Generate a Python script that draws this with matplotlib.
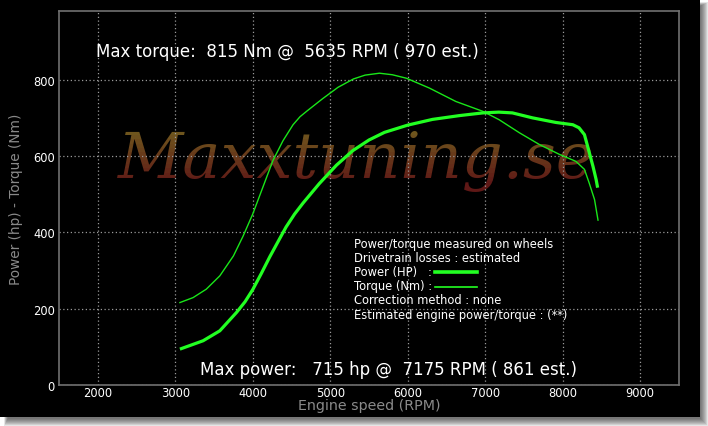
import matplotlib
matplotlib.use("Agg")
import matplotlib.pyplot as plt
import numpy as np
from matplotlib.patches import Rectangle
from matplotlib.lines import Line2D
from matplotlib.transforms import Bbox, TransformedBbox

# data
torque_rpm = [3060, 3230, 3400, 3575, 3750, 3875, 4000, 4130, 4260, 4390, 4520,
              4610, 4700, 4900, 5100, 5300, 5450, 5635, 5800, 5980, 6280, 6620,
              6970, 7180, 7440, 7700, 7960, 8170, 8280, 8340, 8410, 8455]
torque_nm = [216, 229, 251, 286, 338, 390, 448, 518, 588, 640, 682,
             703, 718, 750, 780, 802, 812, 817, 813, 804, 778, 743,
             717, 695, 661, 630, 604, 586, 565, 530, 486, 432]

power_rpm = [3060, 3360, 3575, 3790, 3900, 4000, 4110, 4220, 4330, 4430, 4540,
             4650, 4860, 5080, 5290, 5500, 5700, 6000, 6320, 6670, 6970, 7175,
             7350, 7610, 7910, 8130, 8210, 8280, 8320, 8390, 8430, 8450]
power_hp = [94, 116, 142, 190, 218, 250, 292, 336, 377, 414, 448,
            477, 528, 576, 614, 642, 662, 681, 696, 706, 713, 715,
            713, 700, 688, 682, 674, 656, 626, 573, 539, 517]

x_ticks = [2000, 3000, 4000, 5000, 6000, 7000, 8000, 9000]
y_ticks = [0, 200, 400, 600, 800]

max_torque_txt = "Max torque:  815 Nm @  5635 RPM ( 970 est.)"
max_power_txt = "Max power:   715 hp @  7175 RPM ( 861 est.)"
info_lines = ["Power/torque measured on wheels",
              "Drivetrain losses : estimated",
              "Power (HP)   :",
              "Torque (Nm) :",
              "Correction method : none",
              "Estimated engine power/torque : (**)"]

W, H = 708, 427
fig = plt.figure(figsize=(W / 100, H / 100), dpi=100)
fig.patch.set_facecolor("white")


def px(x, y):
    # pixel (from top-left) -> figure fraction
    return x / W, 1 - y / H


# drop shadow + black panel
for i in range(8):
    x0, y0 = px(4 + i * 0.5, 3 + i * 0.5)
    x1, y1 = px(708 - i, 427 - i)
    fig.patches.append(Rectangle((x0, y1), x1 - x0, y0 - y1, transform=fig.transFigure,
                                 facecolor="#303030", alpha=0.12, edgecolor="none", zorder=0))
x0, y0 = px(0, 0)
x1, y1 = px(700, 418)
fig.patches.append(Rectangle((x0, y1), x1 - x0, y0 - y1, transform=fig.transFigure,
                             facecolor="black", edgecolor="none", zorder=0.5))

l, t = px(59, 12)
r, b = px(679, 386)
ax = fig.add_axes([l, b, r - l, t - b])
ax.set_facecolor("black")
ax.set_xlim(1500, 9500)
ax.set_ylim(0, 980)
ax.set_xticks(x_ticks)
ax.set_yticks(y_ticks)
ax.tick_params(length=0, colors="white", labelsize=8.3)
ax.tick_params(axis="x", pad=0.8)
ax.tick_params(axis="y", pad=3)
for s in ax.spines.values():
    s.set_color("#707070")
    s.set_linewidth(1.2)
ax.grid(True, color="#9a9a9a", linestyle=(0, (1, 2)), linewidth=0.9)
ax.set_xlabel("Engine speed (RPM)", color="#8a8a8a", fontsize=10.3, labelpad=-1)
ax.set_ylabel("Power (hp) - Torque (Nm)", color="#8a8a8a", fontsize=9.8,
              family="Liberation Sans Narrow", labelpad=7)

# watermark with a vertical colour gradient (olive -> dark red)
top_c = np.array([0x70, 0x5c, 0x1e]) / 255
bot_c = np.array([0x5e, 0x16, 0x16]) / 255
wm_top, wm_bot = 128, 186
n = 14
for i in range(n):
    ya = wm_top + (wm_bot - wm_top) * i / n
    yb = wm_top + (wm_bot - wm_top) * (i + 1) / n
    c = top_c + (bot_c - top_c) * (i + 0.5) / n
    tx = fig.text(px(118, 0)[0], px(0, 178)[1], "Maxxtuning.se", family="DejaVu Serif",
                  style="italic", fontsize=46, color=c, va="baseline", ha="left", zorder=1)
    fa, fb = px(0, ya)[1], px(0, yb)[1]
    if i == 0:
        fa = 1
    if i == n - 1:
        fb = 0
    tx.set_clip_box(TransformedBbox(Bbox([[0, fb], [1, fa]]), fig.transFigure))
    tx.set_clip_on(True)

ax.plot(torque_rpm, torque_nm, color="#19e619", linewidth=1.0, zorder=3)
ax.plot(power_rpm, power_hp, color="#22ff22", linewidth=2.3, zorder=3,
        solid_capstyle="butt")

ax.set_zorder(2)
ax.patch.set_alpha(0)

fig.text(*px(96, 52), max_torque_txt, color="white", fontsize=12, va="center", ha="left")
fig.text(*px(200, 370), max_power_txt, color="white", fontsize=12, va="center", ha="left")

ys = [245, 258.5, 272.5, 287, 301, 316]
for s, yy in zip(info_lines, ys):
    fig.text(*px(354, yy), s, color="white", fontsize=8.3, va="center", ha="left")

for yy, lw in [(272.7, 2.6), (287.5, 1.2)]:
    xa, ya_ = px(435, yy)
    xb, _ = px(477, yy)
    fig.lines.append(Line2D([xa, xb], [ya_, ya_], transform=fig.transFigure,
                            color="#22ff22", linewidth=lw))

fig.savefig("out.png", dpi=100, facecolor=fig.get_facecolor())
